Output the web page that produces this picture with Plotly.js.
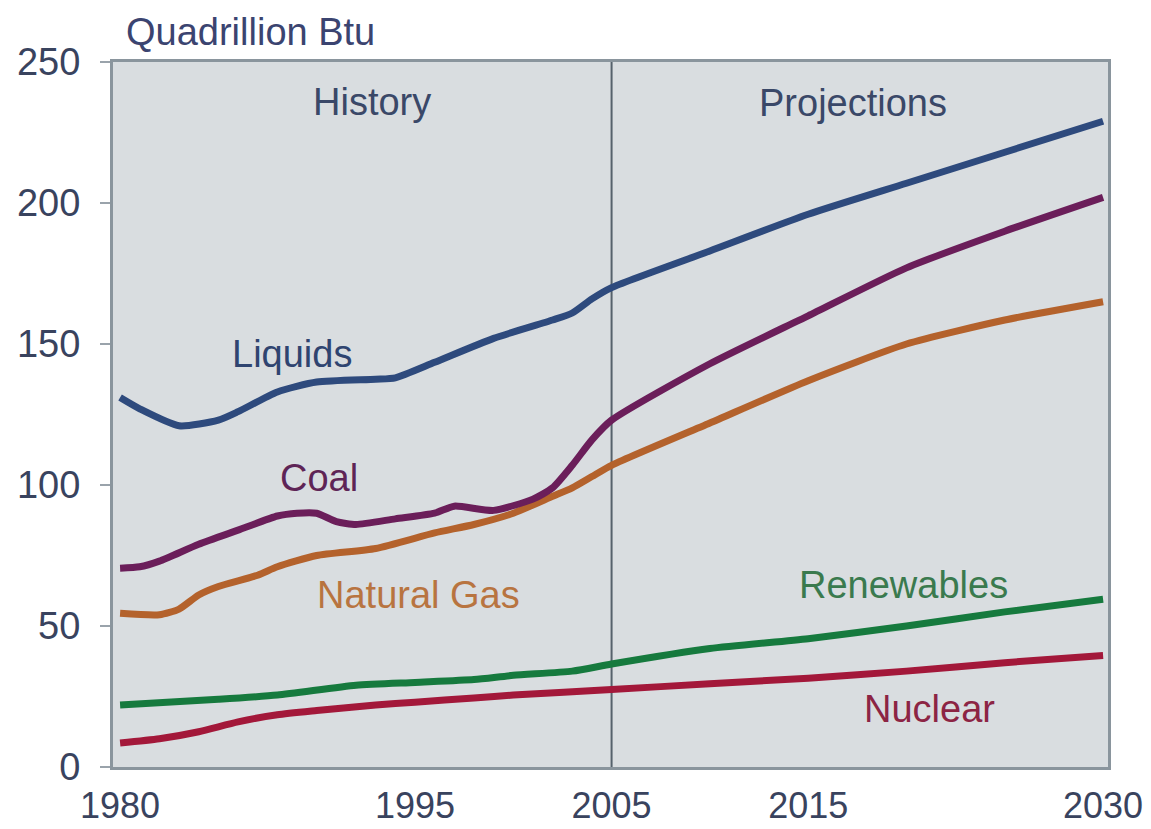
<!DOCTYPE html>
<html>
<head>
<meta charset="utf-8">
<script src="https://cdn.plot.ly/plotly-3.0.1.min.js"></script>
<style>html,body{margin:0;padding:0;background:#fff;}#chart{width:1151px;height:829px;}</style>
</head>
<body>
<div id="chart"></div>
<script>
// ---- data ----
const liquidsYears = [1980,1981,1983,1985,1986,1988,1990,1993,1994,1996,1999,2002,2003,2004,2005,2010,2015,2020,2025,2030];
const liquids      = [131,127,121,123,126,133,136.5,137.5,138,143.5,152,158.5,161,166,170,183,196,207,218,229];

const coalYears = [1980,1981,1982,1984,1986,1988,1989,1990,1991,1992,1994,1996,1997,1999,2001,2002,2003,2004,2005,2010,2015,2020,2025,2030];
const coal      = [70.5,71,73,79,84,89,90,90,87,86,88,90,92.5,91,95,99,107,116,123,143,160,177,190,202];

const gasYears = [1980,1982,1983,1984,1985,1987,1988,1990,1993,1996,1998,2000,2002,2003,2004,2005,2010,2015,2020,2025,2030];
const gas      = [54.5,54,56,61,64,68,71,75,77.5,83,86,90,96,99,103,107,122,137,150,158.5,165];

const renewYears = [1980,1985,1988,1992,1995,1998,2000,2003,2005,2010,2015,2020,2025,2030];
const renewables = [22,24,25.5,29,30,31,32.5,34,36.5,42,45.5,50,55,59.5];

const nuclearYears = [1980,1982,1984,1986,1988,1990,1993,1995,1998,2000,2005,2010,2015,2020,2025,2030];
const nuclear      = [8.5,10,12.5,16,18.5,20,22,23,24.5,25.5,27.5,29.5,31.5,34,37,39.5];

const xTickVals = [1980,1995,2005,2015,2030];
const xTickText = ['1980','1995','2005','2015','2030'];
const yTickVals = [0,50,100,150,200,250];
const dividerYear = 2005;

const seriesNames = ['Liquids','Coal','Natural Gas','Renewables','Nuclear'];
// ---- styling ----
const FONT = 'Liberation Sans, Arial, Helvetica, sans-serif';
const colors = {Liquids:'#2e4a7d', Coal:'#6b1e5a', 'Natural Gas':'#b4622c', Renewables:'#167a3e', Nuclear:'#a3183a'};
const textColors = {Liquids:'#2f4470', Coal:'#5e2456', 'Natural Gas':'#b87440', Renewables:'#3a7a4e', Nuclear:'#8c2444'};

function tr(x, y, name) {
  return {x: x, y: y, name: name, type: 'scatter', mode: 'lines',
    line: {color: colors[name], width: 7, shape: 'spline', smoothing: 0.6},
    hoverinfo: 'x+y+name'};
}

const data = [
  tr(nuclearYears, nuclear, 'Nuclear'),
  tr(renewYears, renewables, 'Renewables'),
  tr(gasYears, gas, 'Natural Gas'),
  tr(coalYears, coal, 'Coal'),
  tr(liquidsYears, liquids, 'Liquids')
];

const plotL = 113, plotR = 1108, plotT = 62, plotB = 767;
function px(xp) { return (xp - plotL) / (plotR - plotL); }
function py(yp) { return (plotB - yp) / (plotB - plotT); }

function ann(text, xp, yp, color) {
  return {text: text, xref: 'paper', yref: 'paper', x: px(xp), y: py(yp),
    xanchor: 'center', yanchor: 'middle', showarrow: false,
    font: {family: FONT, size: 38, color: color}};
}

const layout = {
  width: 1151, height: 829,
  margin: {l: plotL, r: 1151 - plotR, t: plotT, b: 829 - plotB},
  paper_bgcolor: '#ffffff',
  plot_bgcolor: '#d9dde0',
  showlegend: false,
  xaxis: {
    range: [1979.64, 2030.25], tickvals: xTickVals, ticktext: xTickText,
    showgrid: false, zeroline: false, showline: true, mirror: true,
    linecolor: '#8a959d', linewidth: 3, ticks: '',
    ticklabelstandoff: 5,
    tickfont: {family: FONT, size: 36, color: '#39435e'}
  },
  yaxis: {
    range: [0, 250], tickvals: yTickVals,
    showgrid: false, zeroline: false, showline: true, mirror: true,
    linecolor: '#8a959d', linewidth: 3, ticks: 'outside', ticklen: 10, tickwidth: 2, tickcolor: '#9aa3ab',
    ticklabelstandoff: 12,
    tickfont: {family: FONT, size: 38, color: '#39435e'}
  },
  shapes: [{type: 'line', xref: 'x', yref: 'paper', x0: dividerYear, x1: dividerYear, y0: 0, y1: 1,
    line: {color: '#56626c', width: 2}, layer: 'below'}],
  annotations: [
    ann('Quadrillion Btu', 250, 32, '#3b4470'),
    ann('History', 372, 102, '#3a4868'),
    ann('Projections', 853, 103, '#3a4868'),
    ann(seriesNames[0], 292, 354, textColors['Liquids']),
    ann(seriesNames[1], 319, 478, textColors['Coal']),
    ann(seriesNames[2], 418, 595, textColors['Natural Gas']),
    ann(seriesNames[3], 903, 585, textColors['Renewables']),
    ann(seriesNames[4], 929, 709, textColors['Nuclear'])
  ]
};

Plotly.newPlot('chart', data, layout, {displayModeBar: false, staticPlot: true});
</script>
</body>
</html>
